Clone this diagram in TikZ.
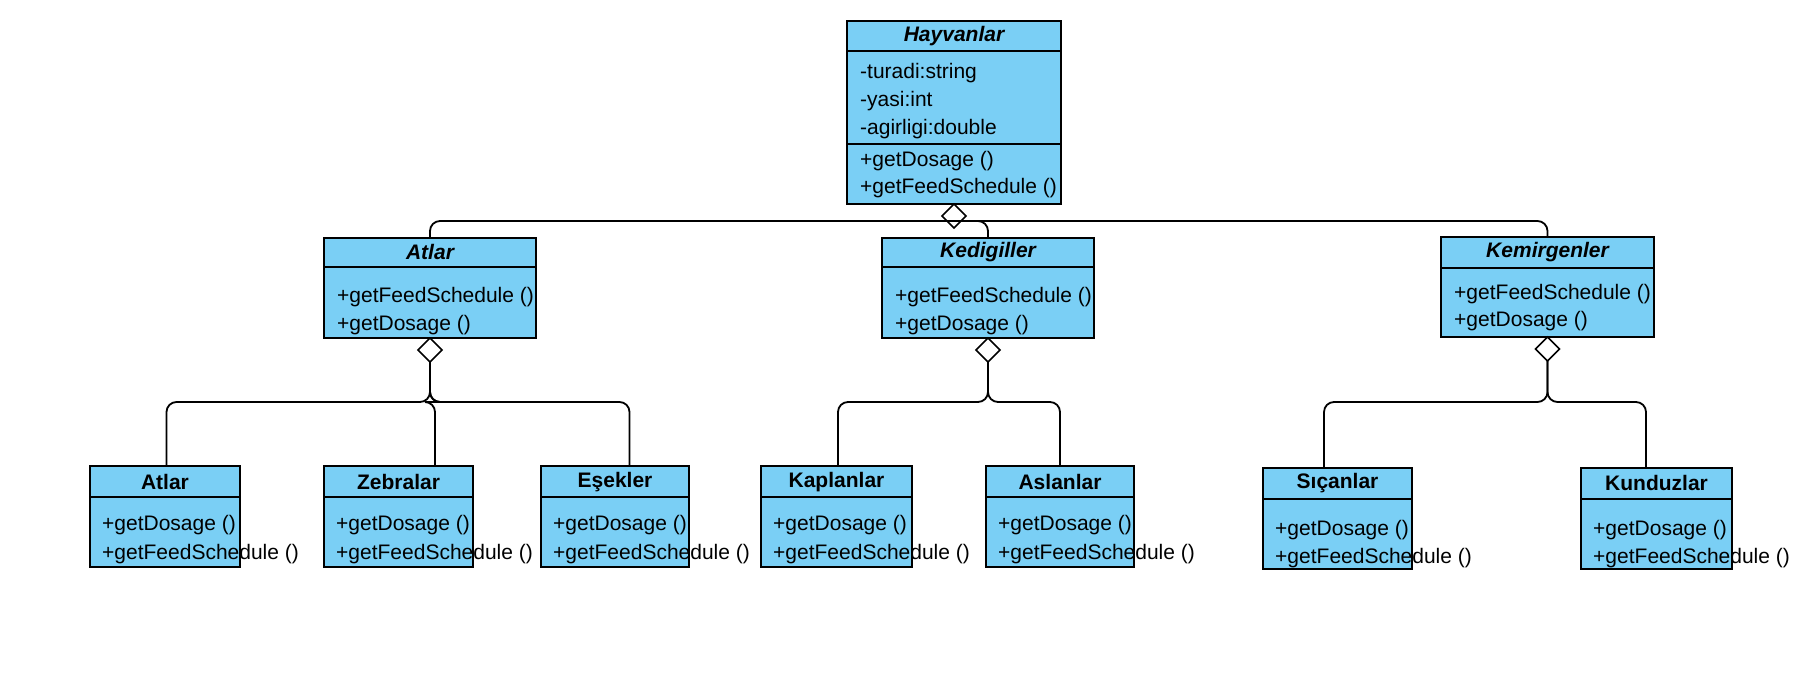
\documentclass[tikz,border=0pt]{standalone}
\usepackage{fontspec}
\setmainfont{Liberation Sans}
\usetikzlibrary{calc,shapes.geometric}
\definecolor{umlblue}{RGB}{122,207,245}
\tikzset{
  classbox/.style={draw=black, fill=umlblue, line width=1.8pt, inner sep=0pt, outer sep=0pt, anchor=north west},
  sepline/.style={draw=black, line width=1.8pt},
  ttl/.style={font=\fontsize{21}{25}\selectfont\bfseries, inner sep=0pt, anchor=center},
  ttli/.style={font=\fontsize{21}{25}\selectfont\bfseries\itshape, inner sep=0pt, anchor=center},
  mem/.style={font=\fontsize{21}{25}\selectfont, inner sep=0pt, anchor=west, yshift=-2.5pt},
  agg/.style={diamond, draw=black, fill=white, line width=1.6pt, minimum width=24pt, minimum height=24pt, inner sep=0pt, outer sep=0pt, anchor=north},
  conn/.style={draw=black, line width=1.8pt, rounded corners=10pt},
}
\newcommand{\mkclass}[6]{%
  \node[classbox, minimum width=#4pt, minimum height=#5pt] (#1) at (#2,#3) {};
  \draw[sepline] ($(#1.north west)+(0,#6)$) -- ($(#1.north east)+(0,#6)$);
}
\begin{document}
\begin{tikzpicture}[x=1pt,y=-1pt]
\useasboundingbox (0,0) rectangle (1793,675);

% ---------- Hayvanlar ----------
\mkclass{hay}{847}{21}{214}{183}{30}
\draw[sepline] ($(hay.north west)+(0,123)$) -- ($(hay.north east)+(0,123)$);
\node[ttli] (hayT) at ($(hay.north)+(0,15)$) {Hayvanlar};
\node[mem] (hayA1) at ($(hay.north west)+(13,50)$) {-turadi:string};
\node[mem] (hayA2) at ($(hay.north west)+(13,78)$) {-yasi:int};
\node[mem] (hayA3) at ($(hay.north west)+(13,106)$) {-agirligi:double};
\node[mem] (hayM1) at ($(hay.north west)+(13,138)$) {+getDosage ()};
\node[mem] (hayM2) at ($(hay.north west)+(13,165)$) {+getFeedSchedule ()};

% ---------- middle level ----------
\mkclass{atlarM}{324}{238}{212}{100}{29}
\node[ttli] (atlarMT) at ($(atlarM.north)+(0,14)$) {Atlar};
\node[mem] (atlarM1) at ($(atlarM.north west)+(13,57)$) {+getFeedSchedule ()};
\node[mem] (atlarM2) at ($(atlarM.north west)+(13,85)$) {+getDosage ()};

\mkclass{kedi}{882}{238}{212}{100}{29}
\node[ttli] (kediT) at ($(kedi.north)+(0,14)$) {Kedigiller};
\node[mem] (kedi1) at ($(kedi.north west)+(13,57)$) {+getFeedSchedule ()};
\node[mem] (kedi2) at ($(kedi.north west)+(13,85)$) {+getDosage ()};

\mkclass{kemir}{1441}{237}{213}{100}{31}
\node[ttli] (kemirT) at ($(kemir.north)+(0,15)$) {Kemirgenler};
\node[mem] (kemir1) at ($(kemir.north west)+(13,55)$) {+getFeedSchedule ()};
\node[mem] (kemir2) at ($(kemir.north west)+(13,82)$) {+getDosage ()};

% ---------- bottom level ----------
\mkclass{atlarB}{90}{466}{150}{101}{31}
\node[ttl] (atlarBT) at ($(atlarB.north)+(0,16)$) {Atlar};
\node[mem] (atlarB1) at ($(atlarB.north west)+(12,57)$) {+getDosage ()};
\node[mem] (atlarB2) at ($(atlarB.north west)+(12,86)$) {+getFeedSchedule ()};

\mkclass{zebra}{324}{466}{149}{101}{31}
\node[ttl] (zebraT) at ($(zebra.north)+(0,16)$) {Zebralar};
\node[mem] (zebra1) at ($(zebra.north west)+(12,57)$) {+getDosage ()};
\node[mem] (zebra2) at ($(zebra.north west)+(12,86)$) {+getFeedSchedule ()};

\mkclass{esek}{541}{466}{148}{101}{31}
\node[ttl] (esekT) at ($(esek.north)+(0,16)$) {Eşekler};
\node[mem] (esek1) at ($(esek.north west)+(12,57)$) {+getDosage ()};
\node[mem] (esek2) at ($(esek.north west)+(12,86)$) {+getFeedSchedule ()};

\mkclass{kaplan}{761}{466}{151}{101}{31}
\node[ttl] (kaplanT) at ($(kaplan.north)+(0,16)$) {Kaplanlar};
\node[mem] (kaplan1) at ($(kaplan.north west)+(12,57)$) {+getDosage ()};
\node[mem] (kaplan2) at ($(kaplan.north west)+(12,86)$) {+getFeedSchedule ()};

\mkclass{aslan}{986}{466}{148}{101}{31}
\node[ttl] (aslanT) at ($(aslan.north)+(0,16)$) {Aslanlar};
\node[mem] (aslan1) at ($(aslan.north west)+(12,57)$) {+getDosage ()};
\node[mem] (aslan2) at ($(aslan.north west)+(12,86)$) {+getFeedSchedule ()};

\mkclass{sican}{1263}{468}{149}{101}{31}
\node[ttl] (sicanT) at ($(sican.north)+(0,15)$) {Sıçanlar};
\node[mem] (sican1) at ($(sican.north west)+(12,60)$) {+getDosage ()};
\node[mem] (sican2) at ($(sican.north west)+(12,88)$) {+getFeedSchedule ()};

\mkclass{kundu}{1581}{468}{151}{101}{31}
\node[ttl] (kunduT) at ($(kundu.north)+(0,15)$) {Kunduzlar};
\node[mem] (kundu1) at ($(kundu.north west)+(12,60)$) {+getDosage ()};
\node[mem] (kundu2) at ($(kundu.north west)+(12,88)$) {+getFeedSchedule ()};

% ---------- aggregation diamonds ----------
\node[agg] (hayD) at (hay.south) {};
\node[agg] (atlarD) at (atlarM.south) {};
\node[agg] (kediD) at (kedi.south) {};
\node[agg] (kemirD) at (kemir.south) {};

% ---------- connectors ----------
\coordinate (bus) at ($(hayD.center)+(0,5)$);
\draw[conn] (bus) -| (atlarM.north);
\draw[conn] (bus) -| (kedi.north);
\draw[conn] (bus) -| (kemir.north);

\coordinate (atlarJ) at ($(atlarD.south)+(0,40)$);
\draw[conn] (atlarD.south) -- (atlarJ) -| ($(atlarB.north)+(1.5,0)$);
\draw[conn] (atlarD.south) -- (atlarJ) -| ($(zebra.north)+(36.5,0)$);
\draw[conn] (atlarD.south) -- (atlarJ) -| ($(esek.north)+(14.5,0)$);

\coordinate (kediJ) at ($(kediD.south)+(0,40)$);
\draw[conn] (kediD.south) -- (kediJ) -| ($(kaplan.north)+(1.5,0)$);
\draw[conn] (kediD.south) -- (kediJ) -| (aslan.north);

\coordinate (kemirJ) at ($(kemirD.south)+(0,41)$);
\draw[conn] (kemirD.south) -- (kemirJ) -| ($(sican.north)+(-13.5,0)$);
\draw[conn] (kemirD.south) -- (kemirJ) -| ($(kundu.north)+(-10.5,0)$);
\end{tikzpicture}
\end{document}
